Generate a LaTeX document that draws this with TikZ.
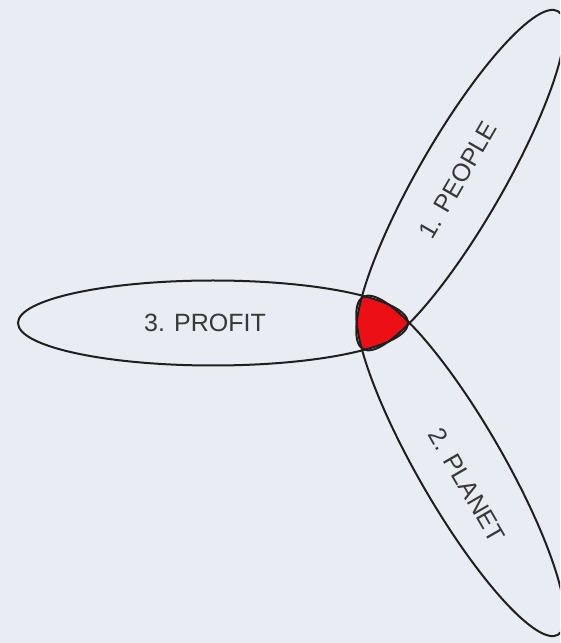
\documentclass[tikz,border=0pt]{standalone}
\usepackage{fontspec}
\usetikzlibrary{calc}
\setmainfont{Liberation Sans}
\begin{document}
\begin{tikzpicture}[x=1pt,y=1pt,
  petal/.style={draw=black!88, line width=2pt},
  lbl/.style={text=black!78, font=\fontsize{25}{30}\selectfont, inner sep=0pt}]
\definecolor{bg}{RGB}{233,236,242}
\definecolor{core}{RGB}{236,16,22}
\fill[bg] (0,0) rectangle (560,643);
\useasboundingbox (0,0) rectangle (560,643);
\clip (0,0) rectangle (560,643);
\coordinate (o) at (378,320);
\coordinate (cprofit) at ($(o)+(180:165)$);
\coordinate (cpeople) at ($(o)+(60:165)$);
\coordinate (cplanet) at ($(o)+(-60:165)$);
\begin{scope}
  \clip (cprofit) ellipse [x radius=195, y radius=42.5];
  \clip[rotate around={60:(cpeople)}] (cpeople) ellipse [x radius=195, y radius=42.5];
  \fill[core, rotate around={-60:(cplanet)}] (cplanet) ellipse [x radius=195, y radius=42.5];
\end{scope}
\draw[petal] (cprofit) ellipse [x radius=195, y radius=42.5];
\draw[petal, rotate around={60:(cpeople)}] (cpeople) ellipse [x radius=195, y radius=42.5];
\draw[petal, rotate around={-60:(cplanet)}] (cplanet) ellipse [x radius=195, y radius=42.5];
\node[lbl] (profit) at (205,320) {3. PROFIT};
\node[lbl, rotate=60] (people) at (458,463) {1. PEOPLE};
\node[lbl, rotate=-60] (planet) at (467,158) {2. PLANET};
\end{tikzpicture}
\end{document}
